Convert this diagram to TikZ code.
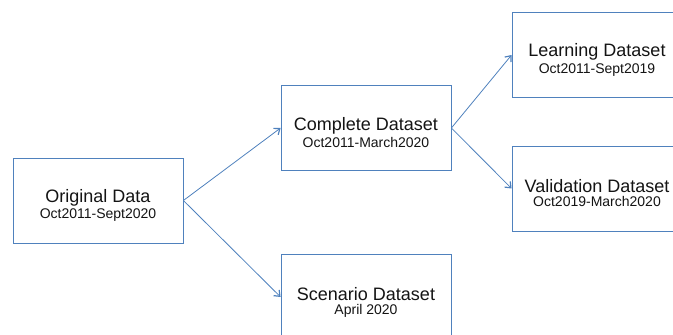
\documentclass[tikz,border=0pt]{standalone}
\usepackage{fontspec}
\setmainfont{Liberation Sans}
\usepackage{tikz}
\usetikzlibrary{arrows.meta,positioning}
\definecolor{splitBlue}{RGB}{79,129,189}
\definecolor{splitText}{RGB}{20,20,20}

\tikzset{
  databox/.style={draw=splitBlue, line width=0.8pt, fill=white, minimum width=170pt,
    minimum height=85pt, align=center, text=splitText, inner sep=0pt},
  splitarrow/.style={draw=splitBlue, line width=0.8pt, -{Straight Barb[length=5pt,width=8pt,line width=1.2pt]}}
}
% title line with a tall strut so the two lines sit a bit below the middle
\newcommand{\setname}[2]{{\fontsize{18}{18}\selectfont\rule{0pt}{23pt}#1}\\[2pt]{\fontsize{14}{14}\selectfont #2}}

\begin{document}
\begin{tikzpicture}[x=1pt,y=1pt]
\clip (0,0) rectangle (673,335);
\node[databox] (orig) at (98,134.5) {\setname{Original Data}{Oct2011-Sept2020}};
\node[databox] (complete) at (366,207) {\setname{Complete Dataset}{Oct2011-March2020}};
\node[databox] (scenario) at (366,38) {\setname{Scenario Dataset}{April 2020}};
\node[databox] (learning) at (597,280) {\setname{Learning Dataset}{Oct2011-Sept2019}};
\node[databox] (valid) at (597,146.5) {\setname{Validation Dataset}{Oct2019-March2020}};
% splits
\draw[splitarrow] (orig.east) -- (complete.west);
\draw[splitarrow] (orig.east) -- (scenario.west);
\draw[splitarrow] (complete.east) -- (learning.west);
\draw[splitarrow] (complete.east) -- (valid.west);
\end{tikzpicture}
\end{document}
